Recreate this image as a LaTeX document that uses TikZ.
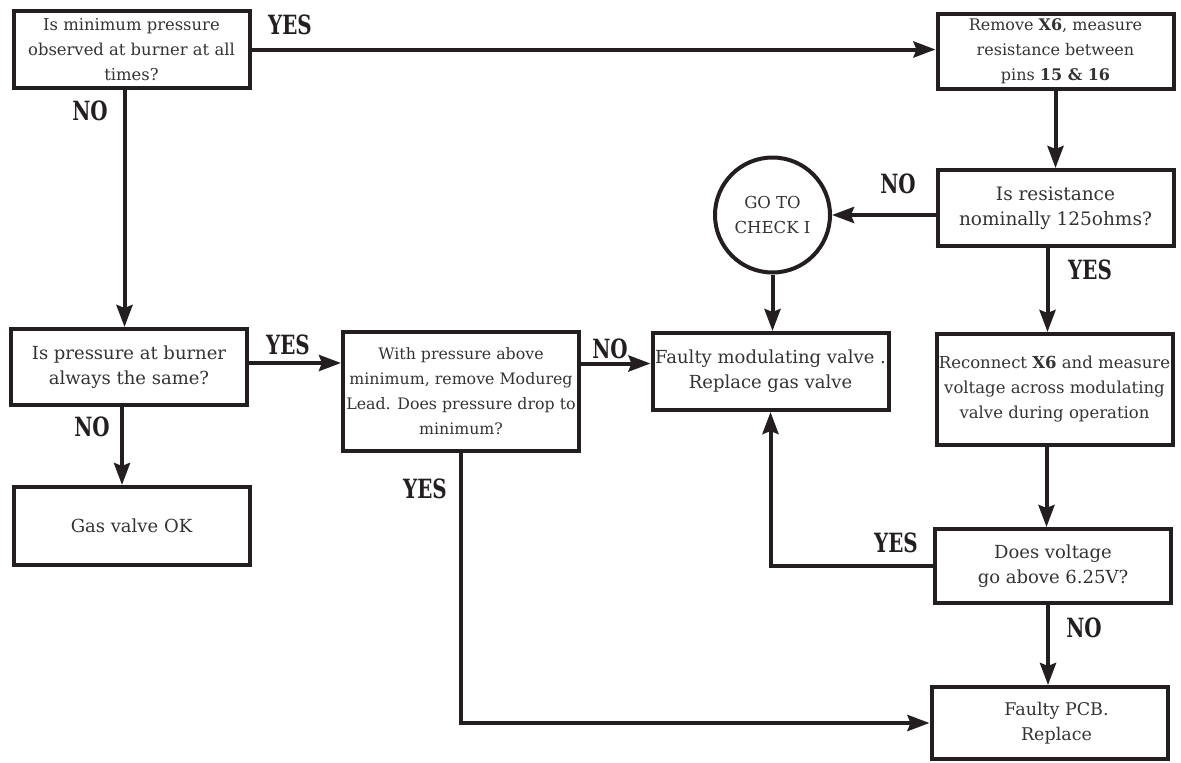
\documentclass[tikz,border=0pt]{standalone}
\usepackage{fontspec}
\setmainfont{DejaVu Serif}
\newfontfamily\lblfont[FakeStretch=0.75]{DejaVu Serif}
\usetikzlibrary{arrows.meta,calc}
\definecolor{ink}{HTML}{231F20}
\definecolor{txt}{HTML}{333333}
\newcommand{\fs}[1]{\fontsize{#1}{25}\selectfont}

\begin{document}
\begin{tikzpicture}[x=1pt,y=-1pt,font=\fs{18},text=txt,
  box/.style={draw=ink,line width=4pt,minimum width=236pt,align=center,inner sep=2pt},
  lbl/.style={font=\lblfont\bfseries\fs{26.5},text=ink,inner sep=0pt},
  arr/.style={draw=ink,line width=4pt,-{Stealth[length=22pt,width=16pt,inset=3pt]}}]
\useasboundingbox (0,0) rectangle (1181,763);
% boxes, placed at their centres (y runs downwards)
\node[box,minimum height=77pt,font=\fs{16.4}] (minp) at (131.5,49.5)
  {Is minimum pressure\\observed at burner at all\\times?};
\node[box,minimum height=75pt,font=\fs{16}] (rmx) at (1055.5,51.5)
  {Remove \textbf{X6}, measure\\resistance between\\pins \textbf{15 \& 16}};
\node[box,minimum height=76pt,font=\fs{18.5}] (res) at (1055.5,208)
  {Is resistance\\nominally 125ohms?};
\node[circle,draw=ink,line width=4pt,minimum size=115pt,inner sep=0pt,align=center,
  font=\fs{16.5}] (goto) at (772.5,215) {GO TO\\CHECK I};
\node[box,minimum height=76pt] (same) at (129,367)
  {Is pressure at burner\\always the same?};
\node[box,minimum height=119pt,font=\fs{15.8}] (modr) at (461,391.5)
  {With pressure above\\minimum, remove Modureg\\Lead. Does pressure drop to\\minimum?};
\node[box,minimum height=77pt] (fval) at (770.5,371.5)
  {Faulty modulating valve .\\Replace gas valve};
\node[box,minimum height=111pt,font=\fs{16.5}] (recon) at (1054.5,389.5)
  {Reconnect \textbf{X6} and measure\\voltage across modulating\\valve during operation};
\node[box,minimum height=78pt] (gok) at (131.5,526) {Gas valve OK};
\node[box,minimum height=74pt] (volt) at (1053,566)
  {Does voltage\\go above 6.25V?};
\node[box,minimum height=72pt,font=\fs{17.5}] (pcb) at (1049.5,723)
  {\hspace*{14pt}Faulty PCB.\\\hspace*{14pt}Replace};
% connectors
\draw[arr] (minp.east) -- (minp.east -| rmx.west);
\draw[arr] ([xshift=-7pt]minp.south) -- ([xshift=-7pt]minp.south |- same.north);
\draw[arr] ([xshift=-7pt]same.south) -- ([xshift=-7pt]same.south |- gok.north);
\draw[arr] ([yshift=4pt]same.east) -- ([yshift=4pt]same.east -| modr.west);
\coordinate (fin) at ([yshift=8pt]fval.west);
\draw[arr] (modr.east |- fin) -- (fin);
\draw[arr] (rmx.south) -- (rmx.south |- res.north);
\draw[arr] (res.west |- goto.east) -- (goto.east);
\draw[arr] (goto.south) -- (goto.south |- fval.north);
\draw[arr] ([xshift=-8pt]res.south) -- ([xshift=-8pt]res.south |- recon.north);
\draw[arr] ([xshift=-8pt]recon.south) -- ([xshift=-8pt]recon.south |- volt.north);
\draw[arr] ([xshift=-5pt]volt.south) -- ([xshift=-5pt]volt.south |- pcb.north);
\draw[arr] (volt.west) -| (fval.south);
\draw[arr] (modr.south) |- (pcb.west);
% branch labels
\foreach \nm/\px/\py/\t in {yes1/290/25/YES, no1/90/111/NO, yes2/288/345/YES,
    no2/92/427/NO, no3/610/349/NO, no4/898/184/NO, yes3/1090/270/YES,
    yes4/425/489/YES, yes5/896/543/YES, no5/1084/628/NO}
  \node[lbl] (\nm) at (\px,\py) {\t};
\end{tikzpicture}
\end{document}
